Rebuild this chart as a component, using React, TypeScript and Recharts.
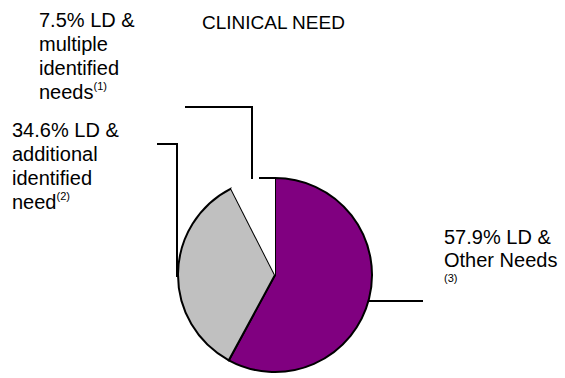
import { PieChart, Pie, Cell } from 'recharts'

const categories = ['LD & Other Needs', 'LD & additional identified need', 'LD & multiple identified needs']
const shares = [57.9, 34.6, 7.5]
const sliceColors = ['#800080', '#C0C0C0', '#FFFFFF']
const footnotes = ['(3)', '(2)', '(1)']

const data = categories.map((name, i) => ({ name, value: shares[i] }))

const FONT = '"Liberation Sans", Arial, sans-serif'
const LINE = { stroke: '#000', strokeWidth: 2, fill: 'none' }

const renderLabel = (props: any) => {
    const { cx, cy, outerRadius: r, index } = props
    const head = `${shares[index]}% LD &`

    if (index === 0) {
        const y = cy + 26
        const x0 = cx + Math.sqrt(r * r - 26 * 26)
        return (
            <g>
                <line x1={x0} y1={y} x2={423} y2={y} {...LINE} />
                <text fontFamily={FONT} fontSize={20} fill="#000">
                    <tspan x={444} y={244}>{head}</tspan>
                    <tspan x={444} y={267}>Other Needs</tspan>
                    <tspan x={444} y={282} fontSize={11}>{footnotes[0]}</tspan>
                </text>
            </g>
        )
    }

    if (index === 1) {
        const x = cx - r - 1
        return (
            <g>
                <polyline points={`157,144 ${x},144 ${x},${cy + 2}`} {...LINE} />
                <text fontFamily={FONT} fontSize={20} fill="#000">
                    <tspan x={12} y={137}>{head}</tspan>
                    <tspan x={12} y={161}>additional</tspan>
                    <tspan x={12} y={185}>identified</tspan>
                    <tspan x={12} y={209}>need</tspan>
                    <tspan fontSize={11} dy={-9}>{footnotes[1]}</tspan>
                </text>
            </g>
        )
    }

    const top = cy - r
    return (
        <g>
            <polyline points={`185,107 252,107 252,${top + 1}`} {...LINE} />
            <line x1={cx - 16} y1={top} x2={cx} y2={top} {...LINE} />
            <text fontFamily={FONT} fontSize={20} fill="#000">
                <tspan x={39} y={27}>{head}</tspan>
                <tspan x={39} y={51}>multiple</tspan>
                <tspan x={39} y={75}>identified</tspan>
                <tspan x={39} y={99}>needs</tspan>
                <tspan fontSize={11} dy={-9}>{footnotes[2]}</tspan>
            </text>
        </g>
    )
}

export default function App() {
    return (
        <div style={{ position: 'absolute', left: 0, top: 0, background: '#fff' }}>
            <PieChart width={565} height={378} margin={{ top: 0, right: 0, bottom: 0, left: 0 }}>
                <text x={202} y={29} fontFamily={FONT} fontSize={19} fill="#000">CLINICAL NEED</text>
                <Pie
                    data={data}
                    dataKey="value"
                    nameKey="name"
                    cx={275}
                    cy={275}
                    outerRadius={97}
                    startAngle={90}
                    endAngle={-270}
                    stroke="#000"
                    strokeWidth={2}
                    label={renderLabel}
                    labelLine={false}
                    isAnimationActive={false}
                >
                    {data.map((_, idx) => (
                        <Cell
                            key={`cell-${idx}`}
                            fill={sliceColors[idx]}
                            stroke={idx === 2 ? 'none' : '#000'}
                        />
                    ))}
                </Pie>
            </PieChart>
        </div>
    )
}
